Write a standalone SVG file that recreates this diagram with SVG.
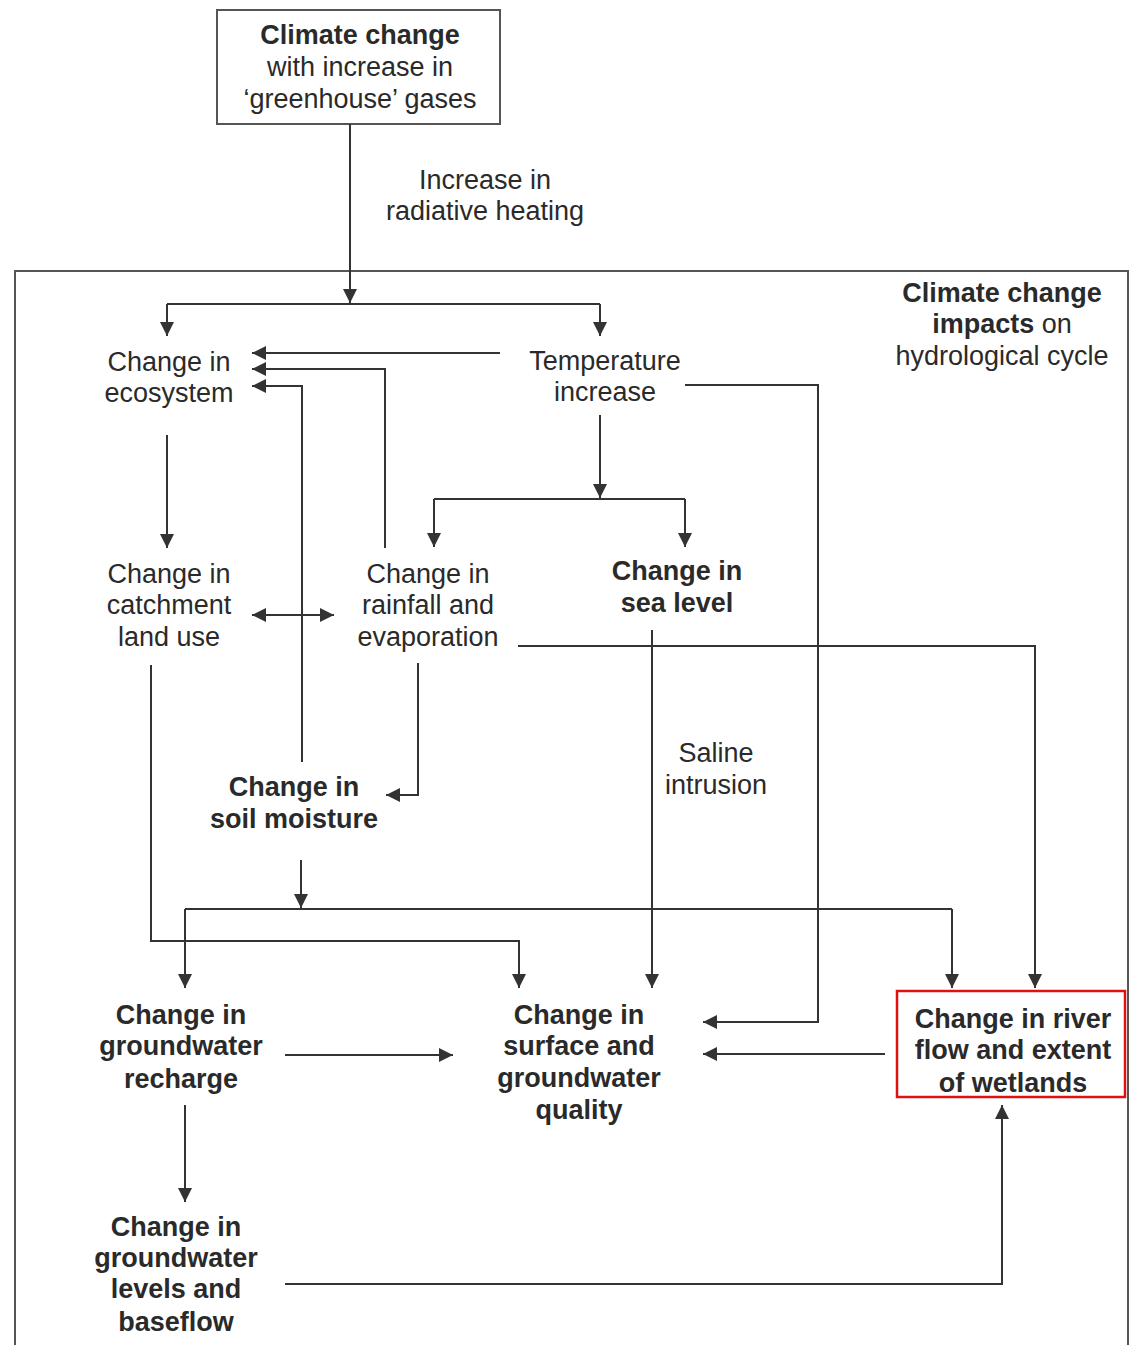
<svg xmlns="http://www.w3.org/2000/svg" width="1133" height="1345" viewBox="0 0 1133 1345">
<defs>
<marker id="ah" viewBox="0 0 10 10" refX="10" refY="5" markerWidth="14" markerHeight="14" markerUnits="userSpaceOnUse" orient="auto">
<path d="M0,0 L10,5 L0,10 Z" fill="#333"/>
</marker>
<marker id="as" viewBox="0 0 10 10" refX="0" refY="5" markerWidth="14" markerHeight="14" markerUnits="userSpaceOnUse" orient="auto">
<path d="M10,0 L0,5 L10,10 Z" fill="#333"/>
</marker>
</defs>
<style>
text{font-family:"Liberation Sans",Arial,sans-serif;font-size:27px;fill:#2a2a2a;text-anchor:middle}
.b{font-weight:bold}
.c{fill:none;stroke:#333;stroke-width:2}
.a{marker-end:url(#ah)}
.frame{fill:none;stroke:#555;stroke-width:2}
</style>
<rect width="1133" height="1345" fill="#fff"/>
<path class="frame" d="M15,1345 V271 H1128 V1345"/>

<g id="climate">
<rect x="217" y="10" width="283" height="114" fill="#fff" stroke="#555" stroke-width="2"/>
<text x="360" y="44" class="b">Climate change</text>
<text x="360" y="76">with increase in</text>
<text x="360" y="108">‘greenhouse’ gases</text>
</g>
<g id="label-radiative">
<text x="485" y="189">Increase in</text>
<text x="485" y="220">radiative heating</text>
</g>
<g id="title-impacts">
<text x="1002" y="302" class="b">Climate change</text>
<text x="1002" y="333"><tspan class="b">impacts</tspan> on</text>
<text x="1002" y="365">hydrological cycle</text>
</g>
<g id="ecosystem">
<text x="169" y="371">Change in</text>
<text x="169" y="402">ecosystem</text>
</g>
<g id="temperature">
<text x="605" y="370">Temperature</text>
<text x="605" y="401">increase</text>
</g>
<g id="catchment">
<text x="169" y="583">Change in</text>
<text x="169" y="614">catchment</text>
<text x="169" y="646">land use</text>
</g>
<g id="rainfall">
<text x="428" y="583">Change in</text>
<text x="428" y="614">rainfall and</text>
<text x="428" y="646">evaporation</text>
</g>
<g id="sealevel">
<text x="677" y="580" class="b">Change in</text>
<text x="677" y="612" class="b">sea level</text>
</g>
<g id="label-saline">
<text x="716" y="762">Saline</text>
<text x="716" y="794">intrusion</text>
</g>
<g id="soilmoisture">
<text x="294" y="796" class="b">Change in</text>
<text x="294" y="828" class="b">soil moisture</text>
</g>
<g id="recharge">
<text x="181" y="1024" class="b">Change in</text>
<text x="181" y="1055" class="b">groundwater</text>
<text x="181" y="1088" class="b">recharge</text>
</g>
<g id="quality">
<text x="579" y="1024" class="b">Change in</text>
<text x="579" y="1055" class="b">surface and</text>
<text x="579" y="1087" class="b">groundwater</text>
<text x="579" y="1119" class="b">quality</text>
</g>
<g id="wetlands">
<rect x="897" y="991" width="228" height="106" fill="none" stroke="#e01010" stroke-width="2.5"/>
<text x="1013" y="1028" class="b">Change in river</text>
<text x="1013" y="1059" class="b">flow and extent</text>
<text x="1013" y="1092" class="b">of wetlands</text>
</g>
<g id="levels">
<text x="176" y="1236" class="b">Change in</text>
<text x="176" y="1267" class="b">groundwater</text>
<text x="176" y="1298" class="b">levels and</text>
<text x="176" y="1331" class="b">baseflow</text>
</g>

<g id="connectors">
<path class="c a" d="M350,124 V303"/>
<path class="c" d="M167,304 H600"/>
<path class="c a" d="M167,304 V336"/>
<path class="c a" d="M600,304 V336"/>
<path class="c a" d="M500,353 H252"/>
<path class="c a" d="M385,548 V369 H252"/>
<path class="c a" d="M302,762 V386 H252"/>
<path class="c a" d="M167,435 V548"/>
<path class="c a" d="M252,615 H334" style="marker-start:url(#as)"/>
<path class="c a" d="M600,415 V498"/>
<path class="c" d="M434,499 H685"/>
<path class="c a" d="M434,499 V547"/>
<path class="c a" d="M685,499 V547"/>
<path class="c a" d="M685,385 H818 V1022 H703"/>
<path class="c a" d="M518,646 H1035 V988"/>
<path class="c a" d="M652,630 V988"/>
<path class="c a" d="M418,663 V795 H386"/>
<path class="c a" d="M301,860 V908"/>
<path class="c" d="M185,909 H952"/>
<path class="c a" d="M185,909 V988"/>
<path class="c a" d="M952,909 V988"/>
<path class="c a" d="M151,665 V941 H519 V988"/>
<path class="c a" d="M285,1055 H453"/>
<path class="c a" d="M885,1054 H703"/>
<path class="c a" d="M185,1105 V1202"/>
<path class="c a" d="M285,1284 H1002 V1105"/>
</g>
</svg>
